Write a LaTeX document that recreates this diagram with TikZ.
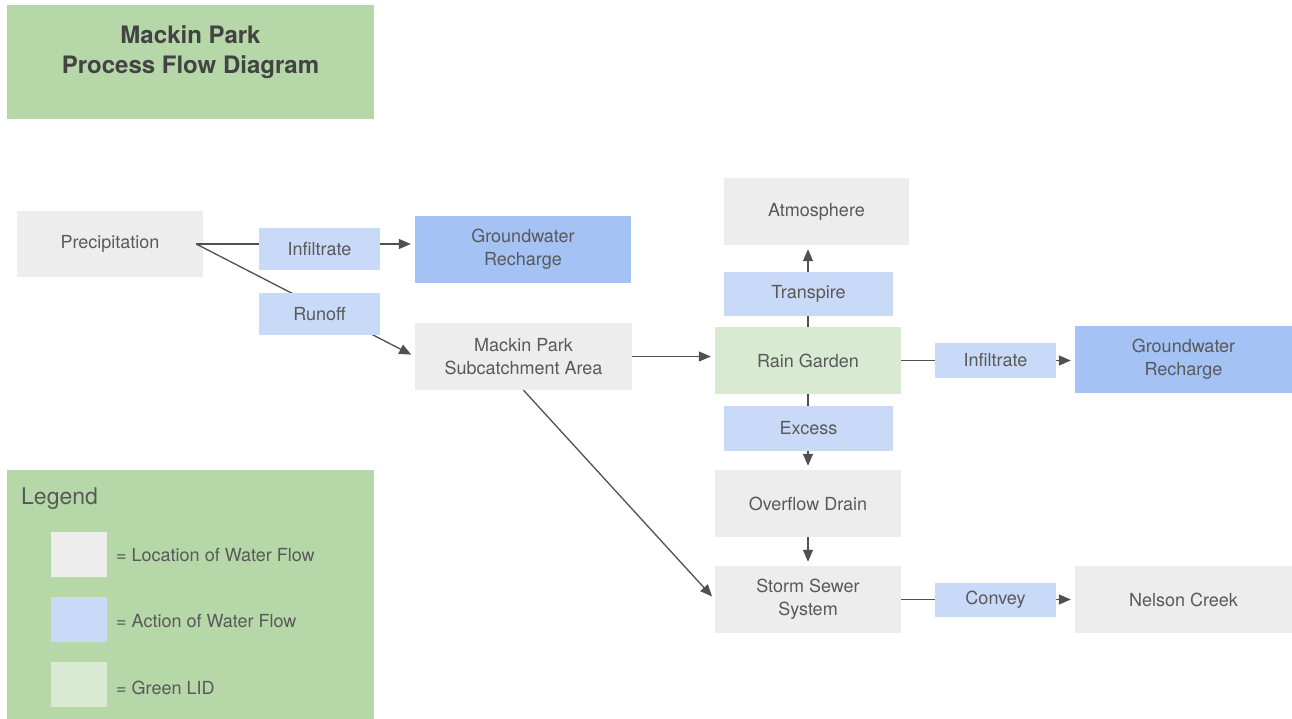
\documentclass[tikz,border=0pt]{standalone}
\usepackage{fontspec}
\setmainfont{TeX Gyre Heros}
\usetikzlibrary{arrows.meta}
\definecolor{locgray}{HTML}{EDEDED}
\definecolor{actblue}{HTML}{C9DAF8}
\definecolor{gwblue}{HTML}{A4C2F4}
\definecolor{lidgreen}{HTML}{D9EAD3}
\definecolor{hdgreen}{HTML}{B6D7A8}
\definecolor{txtc}{HTML}{595959}
\definecolor{ttlc}{HTML}{434343}
\definecolor{edgec}{HTML}{505050}
\begin{document}
\begin{tikzpicture}[x=1pt,y=-1pt,
  box/.style={inner sep=0pt, text=txtc, align=center, font=\fontsize{18}{23}\selectfont},
  loc/.style={box, fill=locgray},
  act/.style={box, fill=actblue},
  gw/.style={box, fill=gwblue},
  lid/.style={box, fill=lidgreen},
  panel/.style={inner sep=0pt, fill=hdgreen},
  wh/.style 2 args={minimum width=#1pt, minimum height=#2pt},
  flow/.style={draw=edgec, line width=1.3pt, -{Triangle[length=12pt,width=10pt]}, shorten >=4pt},
  legtxt/.style={inner sep=0pt, anchor=west, text=txtc, font=\fontsize{18}{22}\selectfont}
]
\fill[white] (0,0) rectangle (1292,719);
\useasboundingbox (0,0) rectangle (1292,719);

% title
\node[panel, wh={367}{114}] (title) at (190.5,62) {};
\node[inner sep=0pt, align=center, text=ttlc, font=\fontsize{24}{30}\selectfont\bfseries] (titletext) at (190.5,52) {Mackin Park\\Process Flow Diagram};

% legend
\node[panel, wh={367}{249}] (legend) at (190.5,594.5) {};
\node[legtxt, font=\fontsize{23}{26}\selectfont] (legtitle) at (21,499) {Legend};
\node[loc, wh={56}{45}] (swloc) at (79,554.5) {};
\node[act, wh={56}{45}] (swact) at (79,619) {};
\node[lid, wh={56}{45}] (swlid) at (79,684) {};
\node[legtxt] (lgloc) at (116,555) {= Location of Water Flow};
\node[legtxt] (lgact) at (116,621) {= Action of Water Flow};
\node[legtxt] (lglid) at (116,688) {= Green LID};

% location boxes
\node[loc, wh={186}{66}] (prec) at (110,244) {Precipitation};
\node[gw, wh={216}{67}] (gr1) at (523,249.5) {Groundwater\\Recharge};
\node[loc, wh={217}{67}] (sub) at (523.5,356.5) {Mackin Park\\Subcatchment Area};
\node[loc, wh={185}{67}] (atm) at (816.5,211.5) {Atmosphere};
\node[lid, wh={186}{67}] (rg) at (808,360.5) {Rain Garden};
\node[gw, wh={217}{67}] (gr2) at (1183.5,359.5) {Groundwater\\Recharge};
\node[loc, wh={186}{67}] (ovf) at (808,503.5) {Overflow Drain};
\node[loc, wh={186}{67}] (ssw) at (808,599.5) {Storm Sewer\\System};
\node[loc, wh={217}{67}] (nel) at (1183.5,599.5) {Nelson Creek};

% connectors
\coordinate (pout) at ([xshift=-7pt]prec.east);
\draw[flow] (pout) -- (pout -| gr1.west);
\draw[flow] (pout) -- (sub.west);
\draw[flow] (sub.east) -- (sub.east -| rg.west);
\draw[flow] (sub.south) -- (ssw.west);
\draw[flow] (rg.north) -- (rg.north |- atm.south);
\draw[flow] (rg.east) -- (rg.east -| gr2.west);
\draw[flow] (rg.south) -- (ovf.north);
\draw[flow] (ovf.south) -- (ssw.north);
\draw[flow] (ssw.east) -- (nel.west);

% action boxes (on top of connectors)
\node[act, wh={121}{42}] (inf1) at (319.5,249) {Infiltrate};
\node[act, wh={121}{42}] (run) at (319.5,314) {Runoff};
\node[act, wh={169}{44}] (tra) at (808.5,294) {Transpire};
\node[act, wh={121}{35}] (inf2) at (995.5,360.5) {Infiltrate};
\node[act, wh={169}{45}] (exc) at (808.5,428.5) {Excess};
\node[act, wh={121}{34}] (con) at (995.5,600) {Convey};
\end{tikzpicture}
\end{document}
